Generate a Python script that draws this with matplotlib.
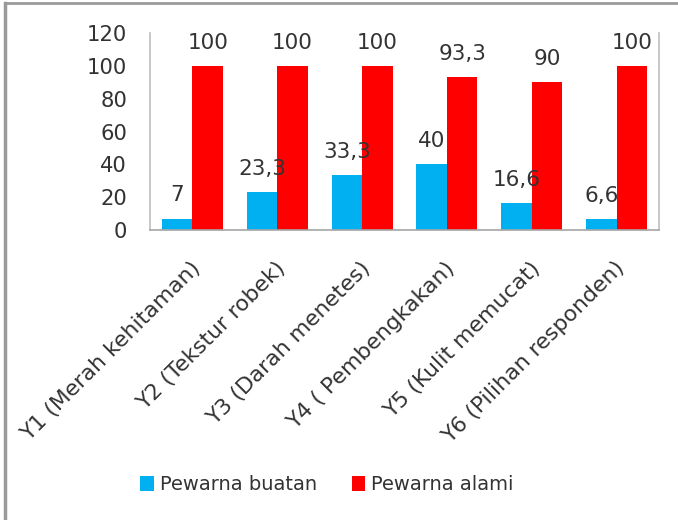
import matplotlib.pyplot as plt
import matplotlib.transforms as mtransforms
from matplotlib.lines import Line2D
import numpy as np

categories = ['Y1 (Merah kehitaman)', 'Y2 (Tekstur robek)', 'Y3 (Darah menetes)',
              'Y4 ( Pembengkakan)', 'Y5 (Kulit memucat)', 'Y6 (Pilihan responden)']
buatan = [7, 23.3, 33.3, 40, 16.6, 6.6]
alami = [100, 100, 100, 93.3, 90, 100]
yticks = [0, 20, 40, 60, 80, 100, 120]

plt.rcParams['font.family'] = ['DejaVu Sans']
txt = '#333333'

fig = plt.figure(figsize=(6.78, 5.2), dpi=100)
ax = fig.add_axes([0.2212, 0.5577, 0.7507, 0.3788])

x = np.arange(len(categories))
w = 0.36
b1 = ax.bar(x - w/2, buatan, w, color='#00B0F0', label='Pewarna buatan')
b2 = ax.bar(x + w/2, alami, w, color='#FF0000', label='Pewarna alami')

def fmt(v):
    return ('%g' % v).replace('.', ',')

for bars, vals in ((b1, buatan), (b2, alami)):
    for r, v in zip(bars, vals):
        ax.annotate(fmt(v), (r.get_x() + r.get_width()/2, v), xytext=(0, 9.5),
                    textcoords='offset points', ha='center', va='bottom',
                    fontsize=15.5, color=txt, annotation_clip=False)

ax.set_xlim(-0.5, len(categories) - 0.5)
ax.set_ylim(0, 120)
ax.set_yticks(yticks)
ax.set_xticks(x)
ax.set_xticklabels(categories, rotation=45, ha='right', rotation_mode='anchor',
                   fontsize=15.8, color=txt)
ax.tick_params(axis='x', length=0, pad=20)
ax.tick_params(axis='y', length=0, pad=16.5, labelsize=15.2, labelcolor=txt)
ax.spines['top'].set_visible(False)
for s in ('left', 'right', 'bottom'):
    ax.spines[s].set_color('#bfbfbf')
    ax.spines[s].set_linewidth(1.2)
ax.spines['bottom'].set_color('#a6a6a6')

# nudge category labels so their ends sit just past the category centre
off = mtransforms.ScaledTranslation(-2/100, 0, fig.dpi_scale_trans)
for t in ax.get_xticklabels():
    t.set_transform(t.get_transform() + off)

fig.legend(handles=[b1, b2], loc='center', bbox_to_anchor=(327/678, 1 - 485/520),
           ncol=2, frameon=False, fontsize=14, handlelength=0.7, handleheight=0.8,
           handletextpad=0.3, columnspacing=1.8, labelcolor=txt)

fig.add_artist(Line2D([5/678, 5/678], [0, 1 - 3/520], color='#9a9a9a', lw=2.5))
fig.add_artist(Line2D([5/678, 1], [1 - 3/520, 1 - 3/520], color='#9a9a9a', lw=2))

fig.savefig('out.png', dpi=100)
